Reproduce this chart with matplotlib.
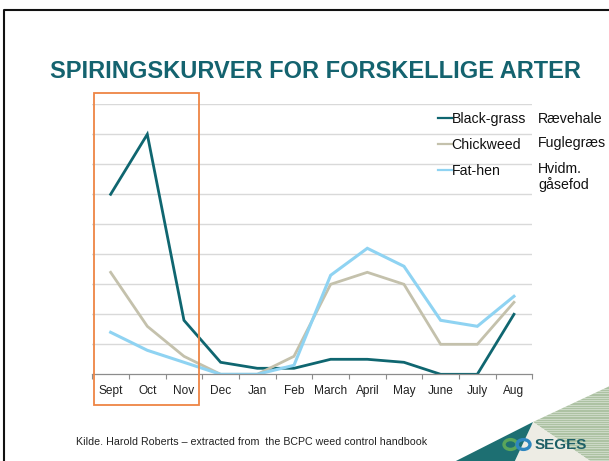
import matplotlib
matplotlib.use("Agg")
import matplotlib.pyplot as plt
from matplotlib.lines import Line2D
from matplotlib.patches import Rectangle, Polygon, Circle
import numpy as np

months = ["Sept", "Oct", "Nov", "Dec", "Jan", "Feb", "March", "April", "May", "June", "July", "Aug"]
black_grass = [6.0, 8.0, 1.8, 0.4, 0.2, 0.2, 0.5, 0.5, 0.4, 0.0, 0.0, 2.0]
chickweed = [3.4, 1.6, 0.6, 0.0, 0.0, 0.6, 3.0, 3.4, 3.0, 1.0, 1.0, 2.4]
fat_hen = [1.4, 0.8, 0.4, 0.0, 0.0, 0.3, 3.3, 4.2, 3.6, 1.8, 1.6, 2.6]
series_names = ["Black-grass", "Chickweed", "Fat-hen"]
danish_names = ["Rævehale", "Fuglegræs", "Hvidm.\ngåsefod"]
title = "SPIRINGSKURVER FOR FORSKELLIGE ARTER"
footer = "Kilde. Harold Roberts \u2013 extracted from  the BCPC weed control handbook"

colors = ["#0f6670", "#c4c1ac", "#8fd3f2"]

W, H = 609, 461
fig = plt.figure(figsize=(W / 100, H / 100), dpi=100)
plt.rcParams['font.family'] = ['Liberation Sans', 'DejaVu Sans']

def fx(px):
    return px / W

def fy(py):
    return 1 - py / H

left, right, bottom, top = 92.3, 532.3, 374.3, 104.3
ax = fig.add_axes([fx(left), fy(bottom), fx(right) - fx(left), fy(top) - fy(bottom)])

x = np.arange(len(months))
for vals, name, c, lw in zip([black_grass, chickweed, fat_hen], series_names, colors, [2.0, 2.0, 2.2]):
    ax.plot(x, vals, color=c, lw=lw, label=name, solid_joinstyle='miter')

ax.set_xlim(-0.5, len(months) - 0.5)
ax.set_ylim(0, 9)
ax.set_yticks(np.arange(1, 10))
ax.yaxis.grid(True, color="#d9d9d9", lw=1.0)
ax.set_axisbelow(True)
ax.tick_params(axis='y', left=False, labelleft=False)
ax.set_xticks(x)
ax.set_xticklabels(months, fontsize=8.6, color="#222222")
ax.set_xticks(np.arange(-0.5, len(months)), minor=True)
ax.tick_params(axis='x', which='major', length=0, pad=8)
ax.tick_params(axis='x', which='minor', length=3.5, color="#8c8c8c", width=0.8)
for s in ["top", "right", "left"]:
    ax.spines[s].set_visible(False)
ax.spines["bottom"].set_color("#8c8c8c")
ax.spines["bottom"].set_linewidth(0.9)

# legend
leg = ax.legend(loc='upper left', bbox_to_anchor=(fx(437.5), fy(111.5)), bbox_transform=fig.transFigure,
                frameon=False, fontsize=10.2, handlelength=1.0, handletextpad=0.0,
                borderpad=0, borderaxespad=0, labelspacing=0.87)
for t in leg.get_texts():
    t.set_color("#111111")
for h in leg.get_lines():
    h.set_linewidth(1.6)

# danish names
ys = [118.8, 143.5, 169.3]
for name, yy in zip(danish_names, ys):
    if "\n" in name:
        fig.text(fx(538), fy(yy - 7.5), name, fontsize=10.2, va='top', ha='left',
                 color="#111111", linespacing=1.12)
    else:
        fig.text(fx(538), fy(yy), name, fontsize=10.2, va='center', ha='left', color="#111111")

# title
fig.text(fx(50), fy(72), title, fontsize=17, fontweight='bold', color="#14636f", ha='left', va='center')

# orange box
fig.add_artist(Rectangle((fx(94.3), fy(405)), fx(199.3) - fx(94.3), fy(92.7) - fy(405),
                         transform=fig.transFigure, fill=False, edgecolor="#ee8544", lw=1.3))

# border
fig.add_artist(Line2D([fx(4.3), fx(4.3), fx(612)], [fy(470), fy(10.5), fy(10.5)],
                      transform=fig.transFigure, color="#111111", lw=1.5))

# footer
fig.text(fx(76), fy(442), footer, fontsize=7.7, color="#222222", ha='left', va='center')

# logo decoration
tf = fig.transFigure
def P(pts, **kw):
    p = Polygon([(fx(a), fy(b)) for a, b in pts], closed=True, transform=tf, **kw)
    fig.add_artist(p)
    return p

stripe = P([(533, 422), (612, 385), (612, 465), (596, 465)], facecolor="#adc2a3", edgecolor='none')
for yy in np.arange(384, 466, 2.3):
    ln = Line2D([fx(520), fx(612)], [fy(yy), fy(yy)], transform=tf, color="#e0e8dc", lw=0.45)
    fig.add_artist(ln)
    ln.set_clip_path(stripe)
P([(533, 422), (596, 465), (513, 465)], facecolor="#edece4", edgecolor='none')
P([(448, 465), (533, 422), (513, 465)], facecolor="#1d6f72", edgecolor='none')
fig.add_artist(Circle((fx(510.5), fy(444.5)), 6.5 / W, transform=tf, facecolor='none',
                      edgecolor="#5aa55a", lw=2.4))
fig.add_artist(Circle((fx(523.5), fy(444.5)), 6.5 / W, transform=tf, facecolor='none',
                      edgecolor="#2e86bf", lw=2.4))
fig.text(fx(534.5), fy(445), "SEGES", fontsize=11, fontweight='bold', color="#1d5f66",
         ha='left', va='center', family=['Liberation Sans Narrow', 'Liberation Sans'])

fig.savefig("out.png", dpi=100)
